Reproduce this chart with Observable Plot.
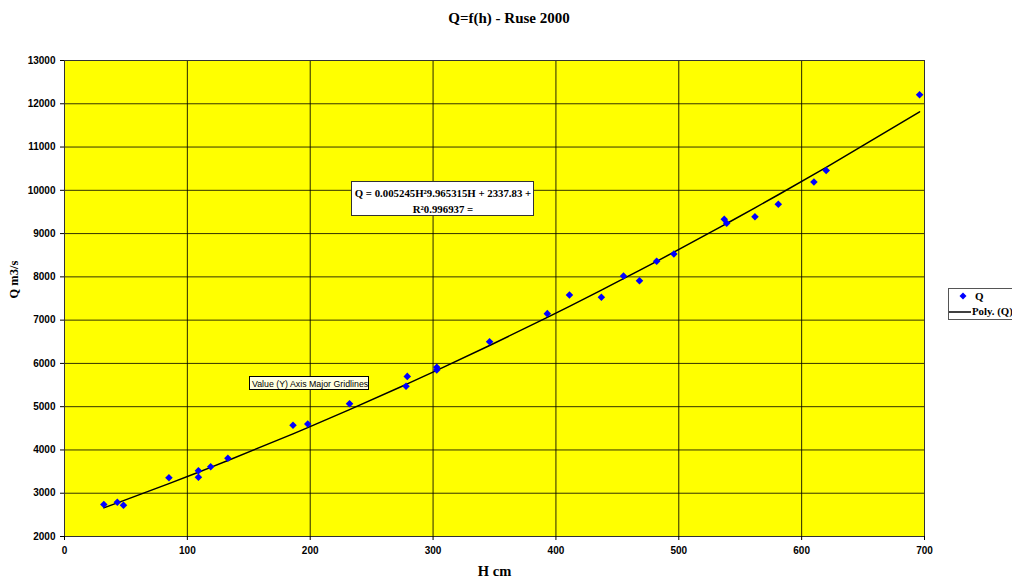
<!DOCTYPE html>
<html>
<head>
<meta charset="utf-8">
<script src="https://cdn.jsdelivr.net/npm/d3@7"></script>
<script src="https://cdn.jsdelivr.net/npm/@observablehq/plot@0.6"></script>
<style>
  html, body { margin: 0; padding: 0; background: #fff; overflow: hidden; }
  #chart svg { display: block; }
</style>
</head>
<body>
<div id="chart"></div>
<script>
// ---- data ----
const H = [32, 43, 48, 85, 109, 109, 119, 133, 186, 198, 232, 278, 279, 303, 303, 346, 393, 411, 437, 455, 468, 482, 496, 537, 539, 562, 581, 610, 620, 696];
const Q = [2740, 2790, 2720, 3360, 3520, 3370, 3610, 3810, 4570, 4600, 5070, 5470, 5700, 5910, 5850, 6500, 7150, 7580, 7530, 8020, 7910, 8360, 8530, 9330, 9240, 9390, 9680, 10190, 10460, 12210];
// polynomial trendline coefficients as printed on the chart (a2, a1, a0)
const polyCoef = [0.005245, 9.965315, 2337.83];
const xTicks = [0, 100, 200, 300, 400, 500, 600, 700];
const yTicks = [2000, 3000, 4000, 5000, 6000, 7000, 8000, 9000, 10000, 11000, 12000, 13000];
const titleText = "Q=f(h) - Ruse 2000";
const xLabel = "H cm";
const yLabel = "Q m3/s";
const eqLine1 = "Q = 0.005245H\u00B29.965315H + 2337.83 +";
const eqLine2 = "R\u00B20.996937 =";
const legendItems = ["Q", "Poly. (Q)"];
const tooltipText = "Value (Y) Axis Major Gridlines";

const points = H.map((h, i) => ({h, q: Q[i]}));
const trend = [...H].sort((a, b) => a - b).map(h => ({h, q: polyCoef[0]*h*h + polyCoef[1]*h + polyCoef[2]}));

const sans = "'Liberation Sans', Arial, sans-serif";
const serif = "'Liberation Serif', 'Times New Roman', serif";

const chart = Plot.plot({
  width: 1012,
  height: 579,
  marginLeft: 64,
  marginRight: 88,
  marginTop: 60,
  marginBottom: 43,
  style: {background: "#fff", fontFamily: sans, fontSize: "10px", fontWeight: "bold", color: "#000", overflow: "visible"},
  x: {domain: [0, 700], label: null},
  y: {domain: [2000, 13000], label: null},
  marks: [
    Plot.frame({fill: "#FFFF00"}),
    Plot.gridX(xTicks.slice(1, -1), {stroke: "#000", strokeOpacity: 0.85}),
    Plot.gridY(yTicks.slice(1, -1), {stroke: "#000", strokeOpacity: 0.8}),
    Plot.frame({stroke: "#333"}),
    Plot.axisX({ticks: xTicks, tickSize: 4, tickPadding: 6, tickFormat: d => String(d), fontSize: 10, fontWeight: "bold", fontFamily: sans}),
    Plot.axisY({ticks: yTicks, tickSize: 4, tickPadding: 5, tickFormat: d => String(d), fontSize: 10, fontWeight: "bold", fontFamily: sans}),
    Plot.line(trend, {x: "h", y: "q", stroke: "#000", strokeWidth: 1.5}),
    Plot.dot(points, {x: "h", y: "q", symbol: "diamond2", r: 3.4, fill: "#0000FF", stroke: "none"}),
    Plot.text([xLabel], {frameAnchor: "bottom", dy: 39, fontFamily: serif, fontSize: 14.5, fontWeight: "bold"}),
    Plot.text([yLabel], {frameAnchor: "left", dx: -51, rotate: -90, fontFamily: serif, fontSize: 12.5, fontWeight: "bold"})
  ]
});

document.getElementById("chart").appendChild(chart);
const svg = d3.select(chart);

// title
svg.append("text").attr("x", 509).attr("y", 23).attr("text-anchor", "middle")
  .style("font-family", serif).style("font-size", "15px").style("font-weight", "bold").text(titleText);

// equation box
const eq = svg.append("g");
eq.append("rect").attr("x", 351.5).attr("y", 181.5).attr("width", 182).attr("height", 34)
  .attr("fill", "#fff").attr("stroke", "#333");
eq.append("text").attr("x", 443).attr("y", 197).attr("text-anchor", "middle")
  .style("font-family", serif).style("font-size", "10.8px").style("font-weight", "bold").text(eqLine1);
eq.append("text").attr("x", 443).attr("y", 213).attr("text-anchor", "middle")
  .style("font-family", serif).style("font-size", "10.8px").style("font-weight", "bold").text(eqLine2);

// legend
const lg = svg.append("g").attr("text-anchor", "start");
lg.append("rect").attr("x", 948.5).attr("y", 288.5).attr("width", 80).attr("height", 31)
  .attr("fill", "#fff").attr("stroke", "#555");
lg.append("path").attr("d", "M0,-3.5L3.5,0L0,3.5L-3.5,0Z").attr("transform", "translate(963,296)").attr("fill", "#0000FF");
lg.append("text").attr("x", 975).attr("y", 300).attr("text-anchor", "start").style("font-family", serif).style("font-size", "11px").style("font-weight", "bold").text(legendItems[0]);
lg.append("line").attr("x1", 949).attr("x2", 971).attr("y1", 312).attr("y2", 312).attr("stroke", "#000").attr("stroke-width", 1.5);
lg.append("text").attr("x", 972).attr("y", 315).attr("text-anchor", "start").style("font-family", serif).style("font-size", "10.8px").style("font-weight", "bold").text(legendItems[1]);

// tooltip
const tt = svg.append("g").attr("text-anchor", "start");
tt.append("rect").attr("x", 249.5).attr("y", 376.5).attr("width", 119).attr("height", 13)
  .attr("fill", "#FFFFE1").attr("stroke", "#000");
tt.append("text").attr("x", 252).attr("y", 386.5).attr("text-anchor", "start").style("font-family", sans).style("font-size", "8.8px").style("font-weight", "normal").text(tooltipText);
</script>
</body>
</html>
